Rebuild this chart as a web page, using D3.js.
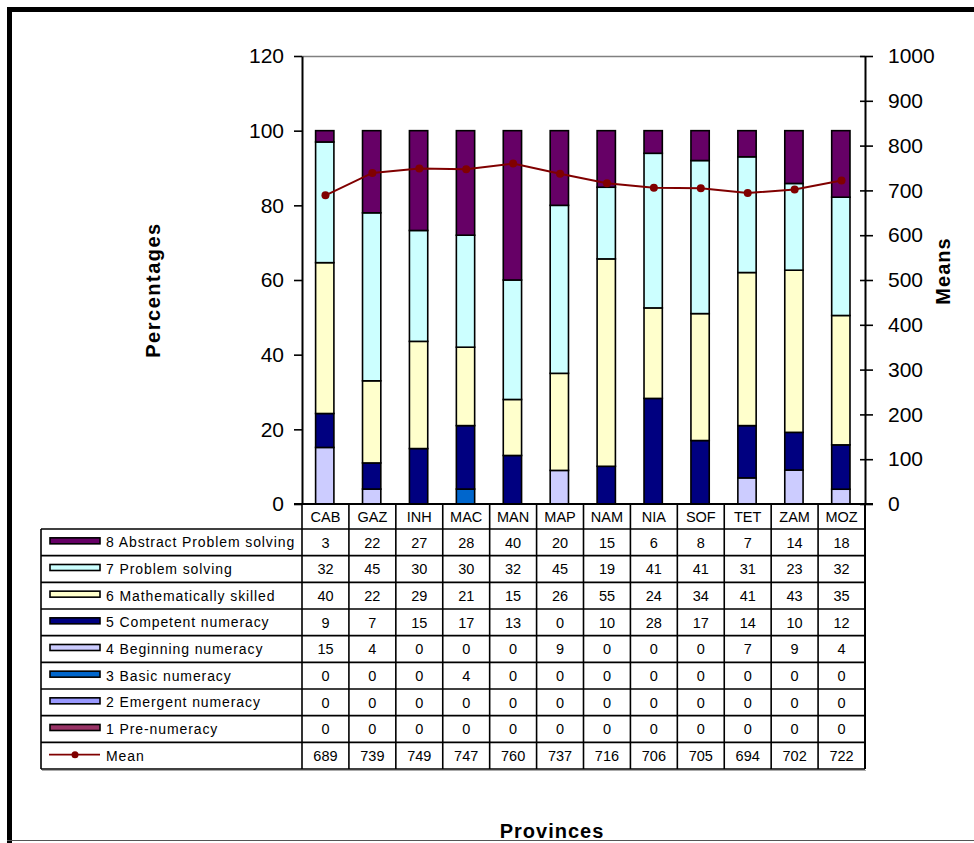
<!DOCTYPE html>
<html><head><meta charset="utf-8">
<script src="https://cdn.jsdelivr.net/npm/d3@7"></script>
<style>
html,body{margin:0;padding:0;background:#fff;}
svg{display:block;font-family:"Liberation Sans",Arial,sans-serif;}
</style></head>
<body><svg id="c" width="974" height="843"></svg>
<script>
const categories = ["CAB","GAZ","INH","MAC","MAN","MAP","NAM","NIA","SOF","TET","ZAM","MOZ"];
const seriesNames = ["8 Abstract Problem solving","7 Problem solving","6 Mathematically skilled","5 Competent numeracy","4 Beginning numeracy","3 Basic numeracy","2 Emergent numeracy","1 Pre-numeracy"];
const seriesColors = ["#660066","#CCFFFF","#FFFFCC","#000080","#CCCCFF","#0066CC","#9999FF","#993366"];
const abstractPS   = [3,22,27,28,40,20,15,6,8,7,14,18];
const problemSolv  = [32,45,30,30,32,45,19,41,41,31,23,32];
const mathSkilled  = [40,22,29,21,15,26,55,24,34,41,43,35];
const competent    = [9,7,15,17,13,0,10,28,17,14,10,12];
const beginning    = [15,4,0,0,0,9,0,0,0,7,9,4];
const basic        = [0,0,0,4,0,0,0,0,0,0,0,0];
const emergent     = [0,0,0,0,0,0,0,0,0,0,0,0];
const preNum       = [0,0,0,0,0,0,0,0,0,0,0,0];
const means        = [689,739,749,747,760,737,716,706,705,694,702,722];
const leftTicks  = [0,20,40,60,80,100,120];
const rightTicks = [0,100,200,300,400,500,600,700,800,900,1000];

const seriesValues = [abstractPS,problemSolv,mathSkilled,competent,beginning,basic,emergent,preNum];
const meanColor = "#800000";

const svg = d3.select("#c");
// frame
svg.append("path").attr("d","M9.5,843V9.5H980").attr("fill","none").attr("stroke","#000").attr("stroke-width",5);
svg.append("line").attr("x1",7).attr("x2",974).attr("y1",840.5).attr("y2",840.5).attr("stroke","#555").attr("stroke-width",1);

const x = d3.scaleBand().domain(categories).range([302,865]).padding(0);
const yL = d3.scaleLinear().domain([0,120]).range([504,56]);
const yR = d3.scaleLinear().domain([0,1000]).range([504,56]);

// data table for stack (bottom = 1 Pre-numeracy)
const keys = seriesNames.slice().reverse();
const rows = categories.map((c,i)=>{
  const o = {cat:c};
  seriesNames.forEach((s,k)=>{ o[s]=seriesValues[k][i]; });
  return o;
});
const stack = d3.stack().keys(keys).offset(d3.stackOffsetExpand)(rows);

// top plot border (gray)
svg.append("line").attr("x1",302).attr("x2",865).attr("y1",yL(120)+0.5).attr("y2",yL(120)+0.5).attr("stroke","#808080").attr("stroke-width",1.5);

// bars
const barOff = 0.29, barW = 0.39;
stack.forEach(layer=>{
  const col = seriesColors[seriesNames.indexOf(layer.key)];
  svg.append("g").selectAll("rect").data(layer.filter(d=>d[1]-d[0]>0)).join("rect")
    .attr("x",d=>x(d.data.cat)+x.bandwidth()*barOff)
    .attr("width",x.bandwidth()*barW)
    .attr("y",d=>yL(d[1]*100))
    .attr("height",d=>yL(d[0]*100)-yL(d[1]*100))
    .attr("fill",col).attr("stroke","#000").attr("stroke-width",1.6);
});

// axes
const gl = svg.append("g").attr("transform","translate(302,0)")
  .call(d3.axisLeft(yL).tickValues(leftTicks).tickSize(8).tickSizeOuter(0).tickPadding(10));
gl.select(".domain").attr("stroke","#000").attr("stroke-width",2);
gl.selectAll(".tick line").attr("stroke","#000").attr("stroke-width",1.6);
gl.selectAll("text").attr("font-size",21).attr("fill","#000").attr("font-family","Liberation Sans, Arial, sans-serif");

const gr = svg.append("g").attr("transform","translate(865,0)")
  .call(d3.axisRight(yR).tickValues(rightTicks).tickFormat(d3.format("d")).tickSize(8).tickSizeOuter(0).tickPadding(15));
gr.select(".domain").attr("stroke","#000").attr("stroke-width",2);
gr.selectAll(".tick line").attr("x1",-5).attr("stroke","#000").attr("stroke-width",1.6);
gr.selectAll("text").attr("font-size",21).attr("fill","#000").attr("font-family","Liberation Sans, Arial, sans-serif");

// mean line
const line = d3.line().x((d,i)=>x(categories[i])+x.bandwidth()/2).y(d=>yR(d));
svg.append("path").datum(means).attr("d",line).attr("fill","none").attr("stroke",meanColor).attr("stroke-width",2);
svg.append("g").selectAll("circle").data(means).join("circle")
  .attr("cx",(d,i)=>x(categories[i])+x.bandwidth()/2).attr("cy",d=>yR(d)).attr("r",4).attr("fill",meanColor);

// x axis line incl. 0 ticks
svg.append("line").attr("x1",294).attr("x2",873).attr("y1",504).attr("y2",504).attr("stroke","#000").attr("stroke-width",2);

// table
const rowNames = seriesNames.concat(["Mean"]);
const ry = d3.scaleBand().domain(rowNames).range([529,769]);
const tg = svg.append("g");
const TL = 41, TR = 865;
// header labels
tg.selectAll("text.cat").data(categories).join("text")
  .attr("x",d=>x(d)+x.bandwidth()/2).attr("y",517).attr("dy","0.36em")
  .attr("text-anchor","middle").attr("font-size",14.5).text(d=>d);
// horizontal lines
rowNames.forEach(r=>{
  tg.append("line").attr("x1",TL).attr("x2",TR).attr("y1",ry(r)).attr("y2",ry(r)).attr("stroke","#000").attr("stroke-width",1.6);
});
tg.append("line").attr("x1",TL).attr("x2",TR).attr("y1",769).attr("y2",769).attr("stroke","#000").attr("stroke-width",1.6);
tg.append("line").attr("x1",TL+1).attr("x2",TR+1).attr("y1",770.5).attr("y2",770.5).attr("stroke","#aaa").attr("stroke-width",1);
// vertical lines
tg.append("line").attr("x1",TL).attr("x2",TL).attr("y1",529).attr("y2",769).attr("stroke","#000").attr("stroke-width",1.6);
categories.forEach(c=>{
  tg.append("line").attr("x1",x(c)).attr("x2",x(c)).attr("y1",504).attr("y2",769).attr("stroke","#000").attr("stroke-width",1.6);
});
tg.append("line").attr("x1",TR).attr("x2",TR).attr("y1",504).attr("y2",769).attr("stroke","#000").attr("stroke-width",2);

// legend keys + labels
const legendFont = 14, legendLS = 0.9, numFont = 14.5;
seriesNames.forEach((s,k)=>{
  const cy = ry(s)+ry.bandwidth()/2;
  tg.append("rect").attr("x",50).attr("y",cy-4.5).attr("width",50).attr("height",6)
    .attr("fill",seriesColors[k]).attr("stroke","#000").attr("stroke-width",1.6);
  tg.append("text").attr("x",106).attr("y",cy).attr("dy","0.36em").attr("font-size",legendFont).attr("letter-spacing",legendLS).text(s);
  categories.forEach((c,i)=>{
    tg.append("text").attr("x",x(c)+x.bandwidth()/2).attr("y",cy).attr("dy","0.36em")
      .attr("text-anchor","middle").attr("font-size",numFont).text(seriesValues[k][i]);
  });
});
{
  const cy = ry("Mean")+ry.bandwidth()/2;
  tg.append("line").attr("x1",49).attr("x2",100).attr("y1",cy-1).attr("y2",cy-1).attr("stroke",meanColor).attr("stroke-width",1.6);
  tg.append("circle").attr("cx",75).attr("cy",cy-1).attr("r",3.5).attr("fill",meanColor);
  tg.append("text").attr("x",106).attr("y",cy).attr("dy","0.36em").attr("font-size",legendFont).attr("letter-spacing",legendLS).text("Mean");
  categories.forEach((c,i)=>{
    tg.append("text").attr("x",x(c)+x.bandwidth()/2).attr("y",cy).attr("dy","0.36em")
      .attr("text-anchor","middle").attr("font-size",numFont).text(means[i]);
  });
}

// axis titles
svg.append("text").attr("transform","translate(160,290) rotate(-90)").attr("text-anchor","middle")
  .attr("font-size",20).attr("font-weight","bold").attr("letter-spacing",1.5).text("Percentages");
svg.append("text").attr("transform","translate(950,271) rotate(-90)").attr("text-anchor","middle")
  .attr("font-size",20).attr("font-weight","bold").attr("letter-spacing",1).text("Means");
svg.append("text").attr("x",552).attr("y",838).attr("text-anchor","middle")
  .attr("font-size",20).attr("font-weight","bold").attr("letter-spacing",1).text("Provinces");
</script></body></html>
